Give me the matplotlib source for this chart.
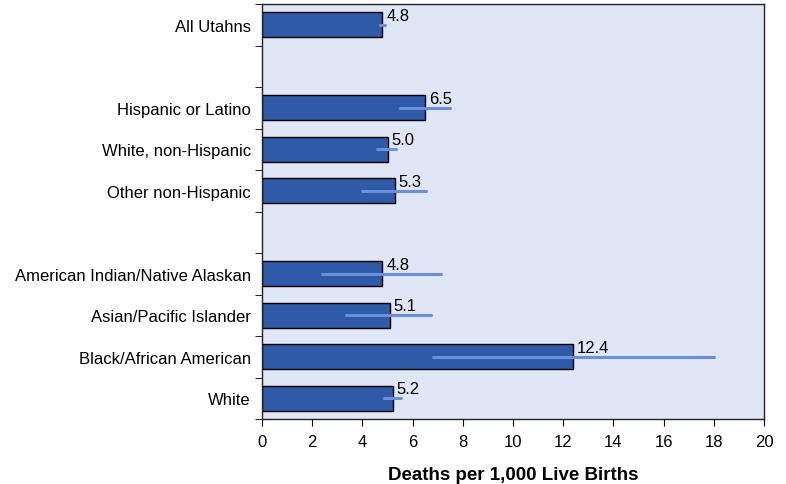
import numpy as np
import matplotlib.pyplot as plt

plt.rcParams['font.family'] = ['Liberation Sans', 'DejaVu Sans']

# slots from top to bottom; '' = blank gap
labels = ['All Utahns', '', 'Hispanic or Latino', 'White, non-Hispanic',
          'Other non-Hispanic', '', 'American Indian/Native Alaskan',
          'Asian/Pacific Islander', 'Black/African American', 'White']
rates = [4.8, None, 6.5, 5.0, 5.3, None, 4.8, 5.1, 12.4, 5.2]
ci_low = [4.7, None, 5.5, 4.6, 4.0, None, 2.4, 3.35, 6.8, 4.85]
ci_high = [4.9, None, 7.5, 5.35, 6.55, None, 7.15, 6.75, 18.0, 5.55]

fig = plt.figure(figsize=(7.86, 4.85), dpi=100)
ax = fig.add_axes([262/786, 1-420/485, (764-262)/786, (420-5)/485])
ax.set_facecolor('#dfe6f5')

n = len(labels)
for i, (r, lo, hi) in enumerate(zip(rates, ci_low, ci_high)):
    if r is None:
        continue
    ax.barh(i, r, height=0.6, color='#2e5aa8', edgecolor='black', linewidth=1, zorder=2)
    ax.plot([lo, hi], [i, i], color='#6b8fd8', lw=2.2, solid_capstyle='round', zorder=3)
    ax.text(r + 0.15, i - 0.05, f'{r:.1f}', fontsize=12, ha='left', va='bottom', zorder=4)

ax.set_ylim(n - 0.5, -0.5)
ax.set_xlim(0, 20)
ax.set_xticks(np.arange(0, 21, 2))
ax.set_yticks(np.arange(n))
ax.set_yticklabels(labels, fontsize=12)
ax.tick_params(axis='y', length=0, pad=8)
ax.set_yticks(np.arange(n + 1) - 0.5, minor=True)
ax.tick_params(axis='y', which='minor', length=5, direction='out')
ax.tick_params(axis='x', length=5, direction='out', labelsize=12, pad=6)
for s in ax.spines.values():
    s.set_linewidth(1)
    s.set_color('#222222')

ax.set_xlabel('Deaths per 1,000 Live Births', fontsize=13.5, fontweight='bold', labelpad=12)

plt.savefig('out.png', dpi=100)
